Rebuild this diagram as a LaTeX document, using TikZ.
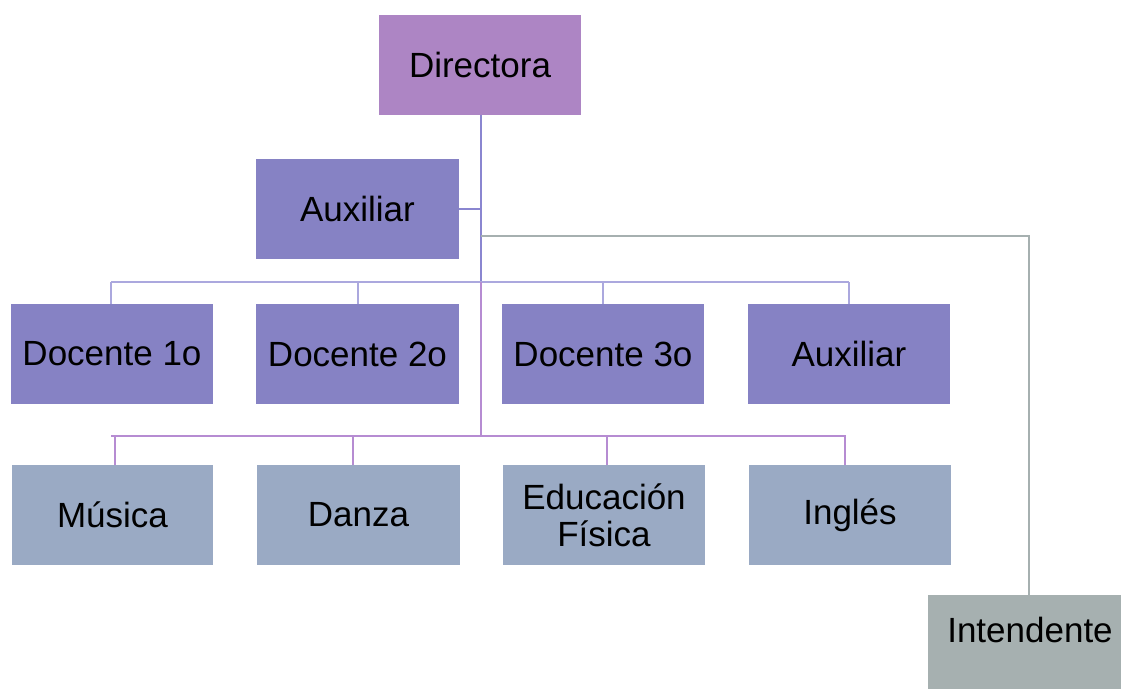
\documentclass[tikz,border=0pt]{standalone}
\usepackage{fontspec}
\setmainfont{Liberation Sans}
\definecolor{cDir}{HTML}{AD85C4}
\definecolor{cMid}{HTML}{8682C4}
\definecolor{cLow}{HTML}{9AAAC4}
\definecolor{cInt}{HTML}{A6B0B0}
\definecolor{lnBlue}{HTML}{8A86D0}
\definecolor{lnLight}{HTML}{ABA8DE}
\definecolor{lnPurple}{HTML}{B68CD2}
\definecolor{lnGray}{HTML}{A6B0B0}
\begin{document}
\begin{tikzpicture}[x=1pt,y=-1pt,
  box/.style={rectangle, inner sep=0pt, minimum width=202pt, minimum height=100pt,
    font=\fontsize{35}{37}\selectfont, text=black, align=center},
  dirbox/.style={box, fill=cDir},
  midbox/.style={box, fill=cMid},
  lowbox/.style={box, fill=cLow},
  intbox/.style={rectangle, inner sep=0pt, minimum width=193pt, minimum height=94pt, fill=cInt},
  lbl/.style={inner sep=0pt, font=\fontsize{35}{37}\selectfont, text=black},
  conBlue/.style={draw=lnBlue, line width=1.3pt},
  conLight/.style={draw=lnLight, line width=1.3pt},
  conPurple/.style={draw=lnPurple, line width=1.8pt},
  conGray/.style={draw=lnGray, line width=1.8pt}]
\useasboundingbox (0,0) rectangle (1121,689);
% boxes
\node[dirbox] (dir) at (480,65) {Directora};
\node[midbox, minimum width=203pt] (aux1) at (357.5,209) {Auxiliar};
\node[midbox] (d1) at (112,354) {Docente 1o};
\node[midbox, minimum width=203pt] (d2) at (357.5,354) {Docente 2o};
\node[midbox] (d3) at (603,354) {Docente 3o};
\node[midbox] (aux2) at (849,354) {Auxiliar};
\node[lowbox, minimum width=201pt] (mus) at (112.5,515) {Música};
\node[lowbox, minimum width=203pt] (dan) at (358.5,515) {Danza};
\node[lowbox] (edu) at (604,515) {Educación\\Física};
\node[lowbox] (ing) at (850,515) {Inglés};
\node[intbox] (int) at (1024.5,642) {};
\node[lbl] (intl) at (1030,630) {Intendente};
% junction coordinates
\coordinate (jA) at (481,209);
\coordinate (jG) at (481,236);
\coordinate (jG2) at (1029,236);
\coordinate (jT) at (481,282);
\coordinate (jB) at (481,436);
\coordinate (t1) at (111,282);
\coordinate (t4) at (849,282);
\coordinate (b1) at (111,436);
\coordinate (b4) at (846,436);
% connectors
\draw[conBlue] (dir.south -| jA) -- (jT);
\draw[conBlue] (aux1.east) -- (jA);
\draw[conGray] (jG) -- (jG2) -- (int.north -| jG2);
\draw[conLight] (t1) -- (t4);
\draw[conLight] (t1) -- (t1 |- d1.north);
\draw[conLight] (358,282) -- (358,304);
\draw[conLight] (603,282) -- (d3.north);
\draw[conLight] (t4) -- (aux2.north);
\draw[conPurple] (jT) -- (jB);
\draw[conPurple] (b1) -- (b4);
\draw[conPurple] (115,436) -- (115,465);
\draw[conPurple] (353,436) -- (353,465);
\draw[conPurple] (607,436) -- (607,465);
\draw[conPurple] (845,436) -- (845,465);
\end{tikzpicture}
\end{document}
